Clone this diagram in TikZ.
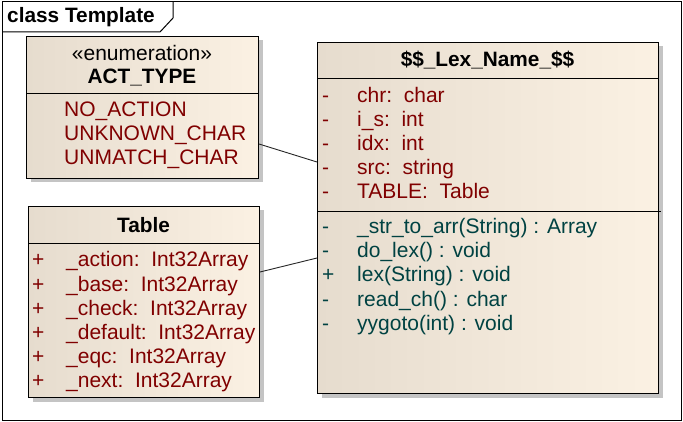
\documentclass[tikz,border=0pt]{standalone}
\usepackage{fontspec}
\setmainfont{Liberation Sans}
\usetikzlibrary{calc,shadows}
\definecolor{attrred}{HTML}{800000}
\definecolor{opteal}{HTML}{004242}
\definecolor{boxl}{HTML}{E6DCCE}
\definecolor{boxr}{HTML}{FBF1E3}
\definecolor{shade}{HTML}{C4C4C4}
\begin{document}
\begin{tikzpicture}[x=1pt,y=-1pt,
  umlbox/.style={draw=black, line width=1pt, left color=boxl, right color=boxr, anchor=north west, inner sep=0pt,
    general shadow={shadow xshift=4pt, shadow yshift=-4pt, fill=shade}},
  txt/.style={inner sep=0pt, anchor=base west, font=\fontsize{21}{24}\selectfont},
  ttl/.style={inner sep=0pt, anchor=base, font=\fontsize{20.8}{24}\selectfont\bfseries},
  attr/.style={txt, text=attrred},
  oper/.style={txt, text=opteal},
  sep/.style={line width=1pt},
  conn/.style={line width=0.9pt, draw=black!85}]
\useasboundingbox (0,0) rectangle (683,422);
\fill[white] (0,0) rectangle (683,422);
% frame
\draw[line width=1pt] (2,2) rectangle (681,420);
\draw[line width=1pt] (2,32) -- (160,32) -- (173,18) -- (173,2);
\node[ttl, anchor=base west] (frametitle) at (7,23) {class Template};
% ACT_TYPE
\node[umlbox, minimum width=232pt, minimum height=142pt] (act) at (26,36) {};
\draw[sep] (act.west |- 0,94) -- (act.east |- 0,94);
\node[txt, anchor=base] (actst) at (142,61) {«enumeration»};
\node[ttl] (actname) at (142,84) {ACT\_TYPE};
\node[attr] (a1) at (64,117) {NO\_ACTION};
\node[attr] (a2) at (64,141) {UNKNOWN\_CHAR};
\node[attr] (a3) at (64,165) {UNMATCH\_CHAR};
% Table
\node[umlbox, minimum width=231pt, minimum height=191pt] (tab) at (28,206) {};
\draw[sep] (tab.west |- 0,244) -- (tab.east |- 0,244);
\node[ttl] (tabname) at (143.5,233) {Table};
\foreach \i/\t in {0/\_action:\ \ Int32Array,1/\_base:\ \ Int32Array,2/\_check:\ \ Int32Array,3/\_default:\ \ Int32Array,4/\_eqc:\ \ Int32Array,5/\_next:\ \ Int32Array}{
  \node[attr] (tv\i) at (32,267+24*\i) {+};
  \node[attr] (t\i) at (66,267+24*\i) {\t};
}
% Lex
\node[umlbox, minimum width=341pt, minimum height=351pt] (lex) at (317,42) {};
\draw[sep] (lex.west |- 0,79) -- (lex.east |- 0,79);
\draw[sep] (lex.west |- 0,212) -- ($(lex.east |- 0,212)+(2,0)$);
\node[ttl] (lexname) at (487.5,67) {\$\$\_Lex\_Name\_\$\$};
\foreach \i/\t in {0/chr:\ \ char,1/i\_s:\ \ int,2/idx:\ \ int,3/src:\ \ string,4/TABLE:\ \ Table}{
  \node[attr] (lv\i) at (322,103+24*\i) {-};
  \node[attr] (l\i) at (357,103+24*\i) {\t};
}
\foreach \i/\v/\t in {0/-/\_str\_to\_arr(String) : Array,1/-/do\_lex() : void,2/+/lex(String) : void,3/-/read\_ch() : char,4/-/yygoto(int) : void}{
  \node[oper] (ov\i) at (322,234+24*\i) {\v};
  \node[oper] (o\i) at (357,234+24*\i) {\t};
}
% connectors
\draw[conn] ($(act.north east)+(0,108)$) -- ($(lex.north west)+(0,120)$);
\draw[conn] ($(tab.north east)+(0,66)$) -- ($(lex.north west)+(0,216)$);
\end{tikzpicture}
\end{document}
